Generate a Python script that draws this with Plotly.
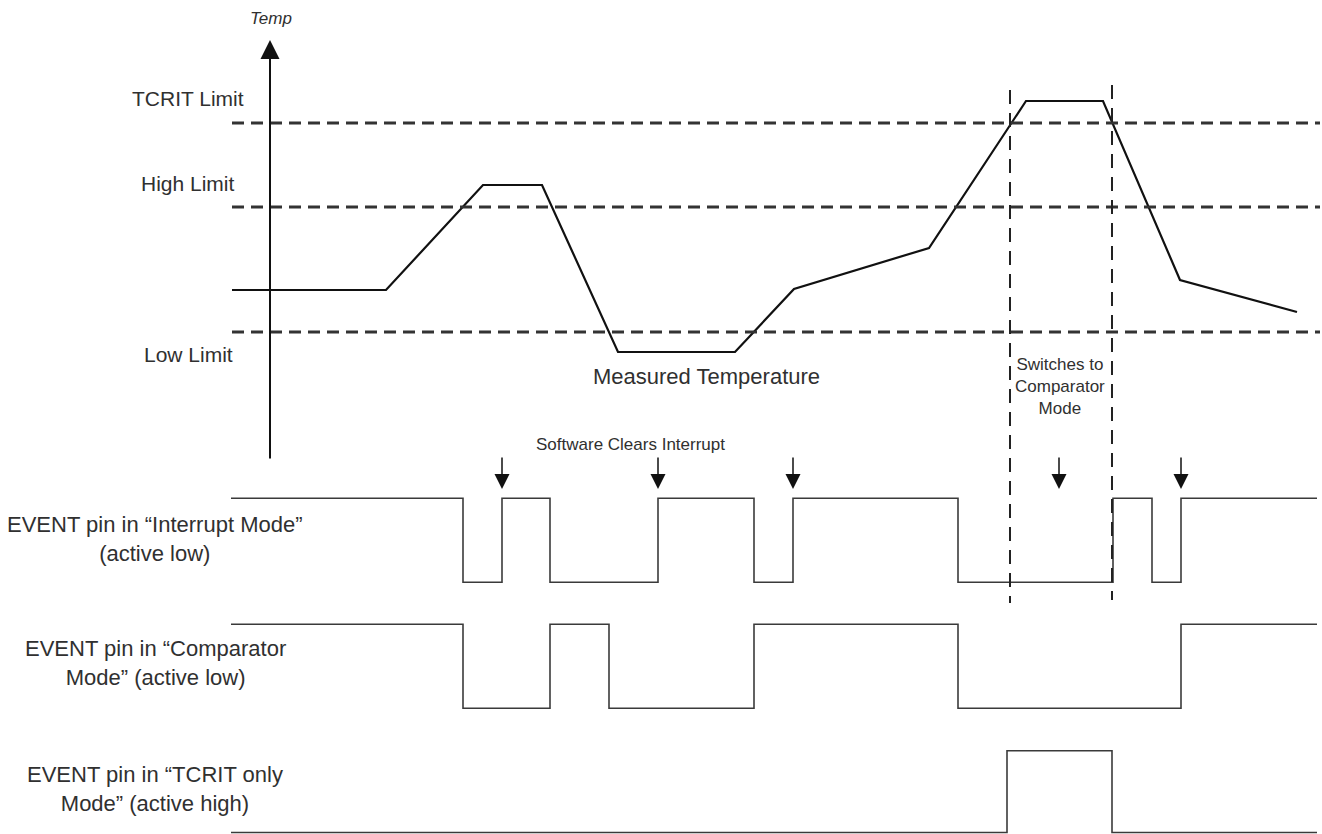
import plotly.graph_objects as go

W, H = 1322, 834

# ---------------- data (diagram time units / levels) ----------------
temp_time = [232, 386, 483, 542, 618, 735, 794, 929, 1026, 1103, 1180, 1297]
temp_level = [170, 170, 275, 275, 108, 108, 171, 212, 359, 359, 180, 148]

limit_names = ["TCRIT Limit", "High Limit", "Low Limit"]
limit_levels = [337, 253, 128]
limit_start, limit_end = 232, 1320

interrupt_time = [231, 463, 502, 550, 658, 754, 793, 958, 1113, 1152, 1181, 1317]
interrupt_level = [1, 0, 1, 0, 1, 0, 1, 0, 1, 0, 1, 1]

comparator_time = [231, 463, 550, 609, 754, 958, 1181, 1317]
comparator_level = [1, 0, 1, 0, 1, 0, 1, 1]

tcrit_time = [231, 1007, 1112, 1317]
tcrit_level = [0, 1, 0, 0]

clear_times = [502, 658, 793, 1059, 1181]
switch_times = [1010, 1112]

row_labels = [
    "EVENT pin in \u201cInterrupt Mode\u201d<br>(active low)",
    "EVENT pin in \u201cComparator<br>Mode\u201d (active low)",
    "EVENT pin in \u201cTCRIT only<br>Mode\u201d (active high)",
]

# ---------------- layout helpers ----------------
def py(p):
    return 1 - p / H

FONT = "Liberation Sans, Arial, sans-serif"
TXT = "#303030"
SIG = "#3a3a3a"

fig = go.Figure()

# temperature panel: value = 460 - pixel
fig.add_trace(go.Scatter(x=temp_time, y=temp_level, mode="lines",
                         line=dict(color="#111111", width=2.2), yaxis="y", showlegend=False))
for lv in limit_levels:
    fig.add_trace(go.Scatter(x=[limit_start, limit_end], y=[lv, lv], mode="lines",
                             line=dict(color="#333333", width=3, dash="12px,7px"),
                             yaxis="y", showlegend=False))

# signal rows
def row_domain(high_px, low_px, lo, hi):
    span = low_px - high_px
    top = high_px - (hi - 1) * span
    bot = low_px + (0 - lo) * span
    return [max(0, py(bot)), min(1, py(top))]

fig.add_trace(go.Scatter(x=interrupt_time, y=interrupt_level, mode="lines", line_shape="hv",
                         line=dict(color=SIG, width=1.6), yaxis="y2", showlegend=False))
fig.add_trace(go.Scatter(x=comparator_time, y=comparator_level, mode="lines", line_shape="hv",
                         line=dict(color=SIG, width=1.6), yaxis="y3", showlegend=False))
fig.add_trace(go.Scatter(x=tcrit_time, y=tcrit_level, mode="lines", line_shape="hv",
                         line=dict(color=SIG, width=1.6), yaxis="y4", showlegend=False))

ax_common = dict(visible=False, showgrid=False, zeroline=False, fixedrange=True)

fig.update_layout(
    width=W, height=H,
    margin=dict(l=0, r=0, t=0, b=0),
    paper_bgcolor="white", plot_bgcolor="rgba(0,0,0,0)",
    xaxis=dict(range=[0, W], domain=[0, 1], **ax_common),
    yaxis=dict(range=[0, 460], domain=[py(460), 1], **ax_common),
    yaxis2=dict(range=[-0.1, 1.1], domain=row_domain(498.3, 582.3, -0.1, 1.1), **ax_common),
    yaxis3=dict(range=[-0.1, 1.1], domain=row_domain(624.3, 708.3, -0.1, 1.1), **ax_common),
    yaxis4=dict(range=[-0.01, 1.1], domain=row_domain(750.7, 832.6, -0.01, 1.1), **ax_common),
    showlegend=False,
)

shapes = []
# vertical dashed "switch" lines
for t, (y0, y1) in zip(switch_times, [(90, 603), (85, 600)]):
    shapes.append(dict(type="line", xref="x", yref="paper", x0=t, x1=t, y0=py(y0), y1=py(y1),
                       line=dict(color="#222222", width=2, dash="14px,9px")))
fig.update_layout(shapes=shapes)

ann = []
# Y axis with arrow
ann.append(dict(x=270, y=py(40), xref="x", yref="paper", ax=0, ay=420, text="",
                showarrow=True, arrowhead=2, arrowsize=1.9, arrowwidth=2, arrowcolor="#111111"))
ann.append(dict(x=271, y=py(19), xref="x", yref="paper", text="<i>Temp</i>", showarrow=False,
                font=dict(family=FONT, size=17, color=TXT), xanchor="center", yanchor="middle"))
# limit labels
for name, cy in zip(limit_names, [98, 184, 354]):
    ann.append(dict(x=188, y=py(cy), xref="x", yref="paper", text=name, showarrow=False,
                    font=dict(family=FONT, size=21, color=TXT), xanchor="center", yanchor="middle"))
ann.append(dict(x=706, y=py(376), xref="x", yref="paper", text="Measured Temperature",
                showarrow=False, font=dict(family=FONT, size=22, color=TXT),
                xanchor="center", yanchor="middle"))
ann.append(dict(x=630, y=py(444), xref="x", yref="paper", text="Software Clears Interrupt",
                showarrow=False, font=dict(family=FONT, size=17, color=TXT),
                xanchor="center", yanchor="middle"))
ann.append(dict(x=1060, y=py(386), xref="x", yref="paper",
                text="Switches to<br>Comparator<br>Mode", showarrow=False,
                font=dict(family=FONT, size=17, color=TXT), xanchor="center", yanchor="middle"))
# down arrows
for t in clear_times:
    ann.append(dict(x=t, y=py(489), xref="x", yref="paper", ax=0, ay=-33, text="",
                    showarrow=True, arrowhead=2, arrowsize=2.0, arrowwidth=1.5,
                    arrowcolor="#111111"))
# row labels
for lab, cy in zip(row_labels, [539, 663, 789]):
    ann.append(dict(x=155, y=py(cy), xref="x", yref="paper", text=lab, showarrow=False,
                    font=dict(family=FONT, size=22, color=TXT), xanchor="center",
                    yanchor="middle", align="center"))
fig.update_layout(annotations=ann)

fig.write_html("out.html", config={"displayModeBar": False},
               post_script="document.body.style.margin='0';document.body.style.overflow='hidden';")
